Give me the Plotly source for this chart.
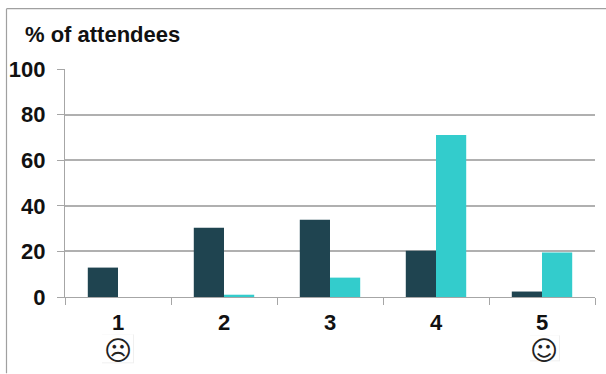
import plotly.graph_objects as go

ratings = ["1", "2", "3", "4", "5"]
series_dark = [12.9, 30.4, 33.9, 20.3, 2.4]
series_teal = [0, 1, 8.5, 71, 19.5]
y_ticks = [0, 20, 40, 60, 80, 100]
title_text = "% of attendees"
sad_face = "\u2639"
happy_face = "\u263A"

W, H = 606, 374
L, R, T, B = 65, 595, 69, 297.5
FONT = "Liberation Sans"
GREY = "#a6a6a6"
LABEL_SIZE = 22


def px(x):
    return (x - L) / (R - L)


def py(y):
    return (B - y) / (B - T)


fig = go.Figure()
fig.add_bar(x=ratings, y=series_dark, marker=dict(color="#1f4450", line_width=0))
fig.add_bar(x=ratings, y=series_teal, marker=dict(color="#33cccc", line_width=0))

# Outer frame: top and left edges only
frame = dict(type="line", xref="paper", yref="paper", line=dict(color="#a0a0a0", width=1.2))
shapes = [
    dict(frame, x0=px(6.5), x1=px(606), y0=py(8.5), y1=py(8.5)),
    dict(frame, x0=px(6.5), x1=px(6.5), y0=py(8.5), y1=py(374)),
]
# Thin boxes behind the two faces
for x0, x1, y0, y1 in [(102, 134, 335, 364), (530, 560, 336, 362)]:
    shapes.append(dict(type="rect", xref="paper", yref="paper", layer="below",
                       x0=px(x0), x1=px(x1), y0=py(y0), y1=py(y1),
                       line_width=0, fillcolor="#f0f0f0"))
    shapes.append(dict(type="rect", xref="paper", yref="paper", layer="below",
                       x0=px(x0), x1=px(x1 - 1), y0=py(y0), y1=py(y1 - 1),
                       line_width=0, fillcolor="#ffffff"))

annotations = [
    dict(text=title_text, x=px(22.5), y=py(34), xref="paper", yref="paper",
         xanchor="left", yanchor="middle", showarrow=False,
         font=dict(family=FONT, size=LABEL_SIZE, color="#111111", weight="bold")),
    dict(text=sad_face, x=px(117.5), y=py(351.5), xref="paper", yref="paper",
         xanchor="center", yanchor="middle", showarrow=False,
         font=dict(family="DejaVu Sans", size=27, color="#222222", weight="bold")),
    dict(text=happy_face, x=px(544), y=py(351.5), xref="paper", yref="paper",
         xanchor="center", yanchor="middle", showarrow=False,
         font=dict(family="DejaVu Sans", size=27, color="#222222", weight="bold")),
]

fig.update_layout(
    width=W, height=H, autosize=False,
    margin=dict(l=L, r=W - R, t=T, b=H - B, pad=0),
    paper_bgcolor="white", plot_bgcolor="white",
    barmode="group", bargap=0.43, bargroupgap=0,
    showlegend=False, shapes=shapes, annotations=annotations,
    font=dict(family=FONT, size=LABEL_SIZE, color="#111111", weight="bold"),
)
fig.update_xaxes(type="category", tickson="boundaries", ticks="outside", ticklen=7,
                 tickcolor=GREY, tickwidth=1.3, showline=True, linecolor=GREY,
                 linewidth=1.3, showgrid=False, zeroline=False, ticklabelstandoff=5,
                 tickfont=dict(family=FONT, size=LABEL_SIZE, weight="bold"), automargin=False)
fig.update_yaxes(range=[0, 100], tickvals=y_ticks, ticks="outside", ticklen=7,
                 tickcolor=GREY, tickwidth=1.3, showline=True, linecolor=GREY,
                 linewidth=1.3, showgrid=True, gridcolor="#b0b0b0", gridwidth=1.6,
                 zeroline=False, ticklabelstandoff=7,
                 tickfont=dict(family=FONT, size=LABEL_SIZE, weight="bold"),
                 automargin=False)

fig.write_html("out.html", config=dict(displayModeBar=False, responsive=False))
